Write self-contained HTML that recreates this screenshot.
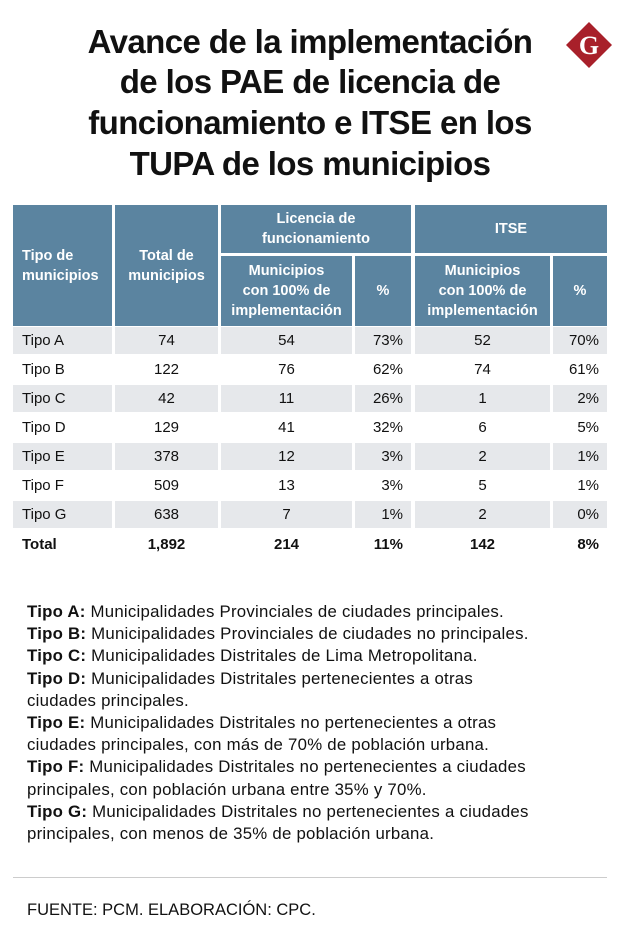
<!DOCTYPE html>
<html><head><meta charset="utf-8">
<style>
body{margin:0;width:620px;height:952px;background:#fff;font-family:"Liberation Sans",sans-serif;color:#111;position:relative;overflow:hidden}
.t{position:absolute;left:0;width:620px;text-align:center;font-weight:bold;font-size:33px;letter-spacing:-0.6px;color:#111}
.c{position:absolute;display:flex;align-items:center;justify-content:center;text-align:center;box-sizing:border-box;font-size:15px}
.h{background:#5b84a0;color:#fff;font-weight:bold;font-size:14.5px;line-height:20px}
.n{position:absolute;left:27px;font-size:16.8px;line-height:22.2px;color:#111;width:590px;letter-spacing:0.25px}
</style></head><body>
<div class="t" style="top:23px">Avance de la implementación</div>
<div class="t" style="top:63px">de los PAE de licencia de</div>
<div class="t" style="top:104px">funcionamiento e ITSE en los</div>
<div class="t" style="top:145px">TUPA de los municipios</div>
<svg style="position:absolute;left:565px;top:21px" width="48" height="48" viewBox="0 0 48 48">
<polygon points="24,1 47,24 24,47 1,24" fill="#a8202a"/>
<text x="24" y="33" text-anchor="middle" font-family="Liberation Serif,serif" font-weight="bold" font-size="26" fill="#fff">G</text></svg>

<div id="tbl"></div>

<div class="n" style="top:601px">
<b>Tipo A:</b> Municipalidades Provinciales de ciudades principales.<br>
<b>Tipo B:</b> Municipalidades Provinciales de ciudades no principales.<br>
<b>Tipo C:</b> Municipalidades Distritales de Lima Metropolitana.<br>
<b>Tipo D:</b> Municipalidades Distritales pertenecientes a otras<br>ciudades principales.<br>
<b>Tipo E:</b> Municipalidades Distritales no pertenecientes a otras<br>ciudades principales, con más de 70% de población urbana.<br>
<b>Tipo F:</b> Municipalidades Distritales no pertenecientes a ciudades<br>principales, con población urbana entre 35% y 70%.<br>
<b>Tipo G:</b> Municipalidades Distritales no pertenecientes a ciudades<br>principales, con menos de 35% de población urbana.
</div>
<div style="position:absolute;left:13px;top:877px;width:594px;height:1px;background:#ccc"></div>
<div style="position:absolute;left:27px;top:901px;font-size:16.5px;color:#111">FUENTE: PCM. ELABORACIÓN: CPC.</div>

<script>
const categories=["Tipo A","Tipo B","Tipo C","Tipo D","Tipo E","Tipo F","Tipo G"];
const totals=["74","122","42","129","378","509","638"];
const licN=["54","76","11","41","12","13","7"];
const licP=["73%","62%","26%","32%","3%","3%","1%"];
const itseN=["52","74","1","6","2","5","2"];
const itseP=["70%","61%","2%","5%","1%","1%","0%"];
const totalRow=["Total","1,892","214","11%","142","8%"];
const cols=[[13,99],[115,103],[221,131],[355,56],[415,135],[553,54]];
const T=document.getElementById('tbl');
function cell(x,y,w,h,txt,cls,name,align){
 const d=document.createElement('div');
 d.className='c '+cls;
 d.style.left=x+'px';d.style.top=y+'px';d.style.width=w+'px';d.style.height=h+'px';
 if(align==='l'){d.style.justifyContent='flex-start';d.style.paddingLeft='9px';}
 if(align==='r'){d.style.justifyContent='flex-end';d.style.paddingRight='8px';}
 d.innerHTML=txt;
 
 
 T.appendChild(d);
}
cell(13,205,99,121,'<div style="text-align:left;width:100%">Tipo de<br>municipios</div>','h','header-type','l');
cell(115,205,103,121,'Total de<br>municipios','h','header-total');
cell(221,205,190,48,'Licencia de<br>funcionamiento','h','header-licencia');
cell(415,205,192,48,'ITSE','h','header-itse');
cell(221,256,131,70,'Municipios<br>con 100% de<br>implementación','h','header-lic-municipios');
cell(355,256,56,70,'%','h','header-lic-pct');
cell(415,256,135,70,'Municipios<br>con 100% de<br>implementación','h','header-itse-municipios');
cell(553,256,54,70,'%','h','header-itse-pct');
const aligns=['l','c','c','r','c','r'];
categories.forEach((c,i)=>{
 const y=327+i*29;
 const vals=[c,totals[i],licN[i],licP[i],itseN[i],itseP[i]];
 const bg=i%2===0?'#e6e8eb':'#fff';
 vals.forEach((v,j)=>{
  cell(cols[j][0],y,cols[j][1],27,v,'','row-'+c.toLowerCase().replace(' ','-')+'-col-'+j,aligns[j]);
  T.lastChild.style.background=bg;
 });
});
totalRow.forEach((v,j)=>{
 cell(cols[j][0],530,cols[j][1],28,v,'','total-row-col-'+j,aligns[j]);
 T.lastChild.style.fontWeight='bold';
});
</script>
</body></html>
